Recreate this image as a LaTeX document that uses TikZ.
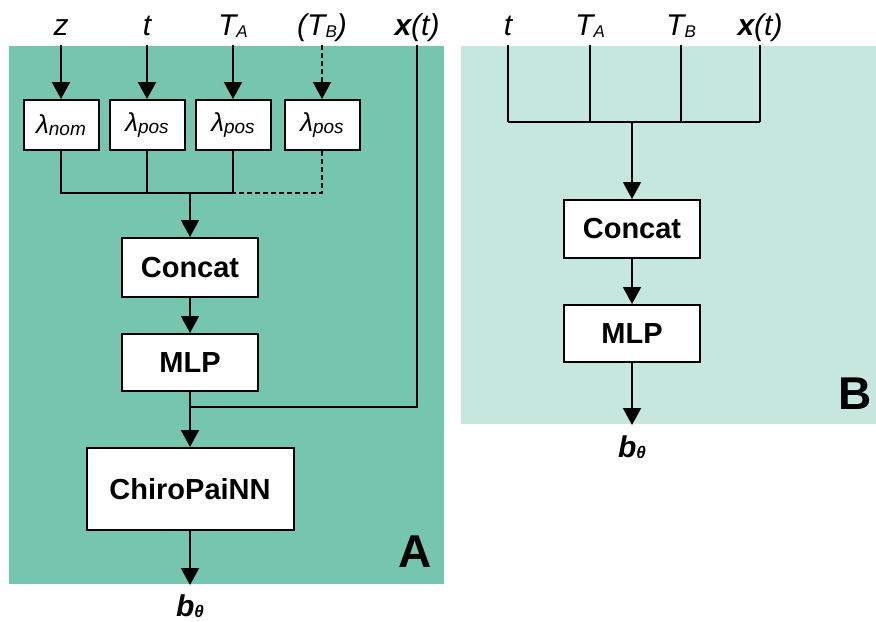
\documentclass[tikz,border=0pt]{standalone}
\usepackage{fontspec}
\setmainfont{Liberation Sans}
\usetikzlibrary{positioning}
\usetikzlibrary{arrows.meta}
\usepackage{xcolor}
\definecolor{panelgreen}{RGB}{118,197,175}
\definecolor{panellight}{RGB}{198,231,222}
% lowered subscript: [drop]{size}{text}
\newcommand{\lsub}[3][1pt]{\raisebox{-#1}{\fontsize{#2}{#2}\selectfont #3}}

\begin{document}
\begin{tikzpicture}[x=0.5pt, y=-0.5pt, line width=1pt,
  panel/.style={rectangle, draw=none, inner sep=0pt},
  box/.style={rectangle, draw, fill=white, inner sep=0pt, minimum width=68pt, font=\fontsize{14.5}{16}\selectfont\bfseries},
  lambdabox/.style={rectangle, draw, fill=white, inner sep=0pt, minimum width=37.5pt, minimum height=25pt, font=\fontsize{13}{15}\selectfont\itshape},
  inlabel/.style={inner sep=0pt, anchor=base, font=\fontsize{15}{17}\selectfont\itshape},
  panelmark/.style={inner sep=0pt, anchor=base, font=\fontsize{23}{25}\selectfont\bfseries},
  arr/.style={-{Triangle[length=8.5pt,width=9pt]}}]
\useasboundingbox (0,0) rectangle (876,621);

% Panels
\node[panel, fill=panelgreen, minimum width=217.5pt, minimum height=269pt] (panelA) at (226.5,315) {};
\node[panel, fill=panellight, minimum width=207.5pt, minimum height=189pt] (panelB) at (668.5,235) {};

% Inputs (A)
\node[inlabel] (lzA) at (61,35) {z};
\node[inlabel] (ltA) at (147,35) {t};
\node[inlabel] (lTaA) at (233,35) {T\lsub{8.5}{A}};
\node[inlabel] (lTbA) at (322,35) {(T\lsub{8.5}{B})};
\node[inlabel] (lxA) at (417,35) {\textbf{x}(t)};

% Embeddings
\node[lambdabox] (lnom) at (61,125) {λ\lsub{9.5}{nom}};
\node[lambdabox] (lpos1) at (147,125) {λ\lsub{9.5}{pos}};
\node[lambdabox] (lpos2) at (233,125) {λ\lsub{9.5}{pos}};
\node[lambdabox] (lpos3) at (322,125) {λ\lsub{9.5}{pos}};

% Blocks (A)
\node[box, minimum height=29.5pt] (concatA) at (190,267.5) {Concat};
\node[box, minimum height=28.5pt, below=17.5pt of concatA] (mlpA) {MLP};
\node[box, minimum width=103.5pt, minimum height=41pt, below=27.5pt of mlpA] (chiro) {ChiroPaiNN};
\coordinate (joinA) at (190,193);
\coordinate (mergeA) at (190,407);

% Arrows (A)
\draw[arr] (lnom |- panelA.north) -- (lnom);
\draw[arr] (lpos1 |- panelA.north) -- (lpos1);
\draw[arr] (lpos2 |- panelA.north) -- (lpos2);
\draw[arr, dashed, dash pattern=on 2.5pt off 1.5pt] (lpos3 |- panelA.north) -- (lpos3);
\draw (lnom.south) |- (joinA);
\draw (lpos1.south) -- (lpos1.south |- joinA);
\draw (lpos2.south) |- (joinA);
\draw[dashed, dash pattern=on 2.5pt off 1.5pt] (lpos3.south) |- (lpos2.south |- joinA);
\draw[arr] (joinA) -- (concatA);
\draw[arr] (concatA) -- (mlpA);
\draw (mlpA) -- (mergeA);
\draw (lxA |- panelA.north) |- (mergeA);
\draw[arr] (mergeA) -- (chiro);
\draw[arr] (chiro) -- (chiro |- panelA.south);
\node[inlabel, font=\fontsize{15}{17}\selectfont\bfseries\itshape] (bA) at (190,616) {b\lsub[0.5pt]{8.5}{θ}};
\node[panelmark] (markA) at (415,567) {A};

% Inputs (B)
\node[inlabel] (ltB) at (508,35) {t};
\node[inlabel] (lTaB) at (590,35) {T\lsub{8.5}{A}};
\node[inlabel] (lTbB) at (681,35) {T\lsub{8.5}{B}};
\node[inlabel] (lxB) at (760,35) {\textbf{x}(t)};

% Blocks (B)
\node[box, minimum height=29pt] (concatB) at (632,229) {Concat};
\node[box, minimum height=28.5pt, below=22.5pt of concatB] (mlpB) {MLP};
\coordinate (joinB) at (632,122);

% Arrows (B)
\draw (ltB |- panelB.north) -- (ltB |- joinB);
\draw (lTaB |- panelB.north) -- (lTaB |- joinB);
\draw (lTbB |- panelB.north) -- (lTbB |- joinB);
\draw (lxB |- panelB.north) -- (lxB |- joinB);
\draw (ltB |- joinB) -- (lxB |- joinB);
\draw[arr] (joinB) -- (concatB);
\draw[arr] (concatB) -- (mlpB);
\draw[arr] (mlpB) -- (mlpB |- panelB.south);
\node[inlabel, font=\fontsize{15}{17}\selectfont\bfseries\itshape] (bB) at (632,457) {b\lsub[0.5pt]{8.5}{θ}};
\node[panelmark] (markB) at (855,409) {B};

\end{tikzpicture}
\end{document}
